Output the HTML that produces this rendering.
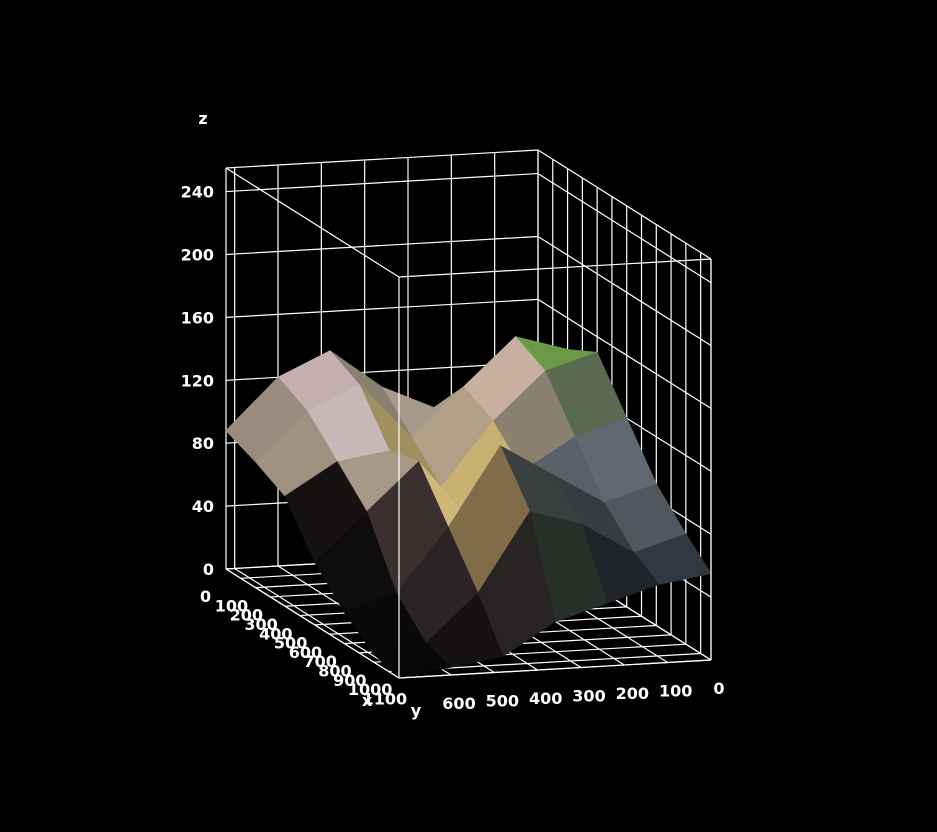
<!DOCTYPE html>
<html><head><meta charset="utf-8"><style>
html,body{margin:0;padding:0;background:#000;}
svg text{font-family:"DejaVu Sans","Liberation Sans",sans-serif;font-weight:bold;font-size:16px;fill:#fff;}
</style></head><body>
<svg id="chart" width="937" height="827" viewBox="0 0 937 827" xmlns="http://www.w3.org/2000/svg">
<rect width="937" height="827" fill="#000"/>
<g id="grid"></g>
<g id="surf"></g>
<g id="front"></g>
<g id="labels"></g>
</svg>
<script>
const zTicks = [0,40,80,120,160,200,240];
const yTicks = [0,100,200,300,400,500,600];
const xTicks = [0,100,200,300,400,500,600,700,800,900,1000,1100];
const xs = [0,200,400,600,800,1000,1170];
const ys = [0,120,240,360,480,600,720];
const zRow0 = [90,100,95,110,135,120,88];
const zRow1 = [140,150,120,90,125,110,80];
const zRow2 = [150,140,110,70,95,90,70];
const zRow3 = [120,110,90,60,100,70,40];
const zRow4 = [90,80,100,120,70,30,20];
const zRow5 = [70,60,80,90,40,10,5];
const zRow6 = [55,50,40,30,10,5,0];
const cellColors = [
 ['#7a8a60','#b8a090','#a89a8a','#8a8070','#c4b0b0','#9a8a80'],
 ['#6a9a48','#c8b0a0','#b0a088','#a09060','#c8b8b8','#a09080'],
 ['#5a6a50','#8a8070','#c8b070','#c8b070','#a89888','#161212'],
 ['#606870','#5a6068','#c0a868','#d0b878','#3a3030','#0e0c0c'],
 ['#50585e','#383c40','#3a4040','#806c48','#2a2424','#0a0808'],
 ['#303840','#202428','#243028','#282424','#161212','#080606']];
const zRows=[zRow0,zRow1,zRow2,zRow3,zRow4,zRow5,zRow6];
const XMAX=1170,YMAX=720,ZMAX=255;
const O=[538,551],VX=[173,109],VY=[-312,18],ZS=401/255;
function P(x,y,z){return [O[0]+VX[0]*x/XMAX+VY[0]*y/YMAX, O[1]+VX[1]*x/XMAX+VY[1]*y/YMAX-z*ZS];}
const NS='http://www.w3.org/2000/svg';
function line(g,a,b,name){const l=document.createElementNS(NS,'line');
l.setAttribute('x1',a[0]);l.setAttribute('y1',a[1]);l.setAttribute('x2',b[0]);l.setAttribute('y2',b[1]);
l.setAttribute('stroke','#fff');l.setAttribute('stroke-width','1.2');


g.appendChild(l);}
const grid=document.getElementById('grid');
const yl=yTicks.concat([700,YMAX]); const xl=xTicks.concat([XMAX]); const zl=zTicks.concat([ZMAX]);
yl.forEach(y=>{line(grid,P(0,y,0),P(0,y,ZMAX),'back-wall-gridline');line(grid,P(0,y,0),P(XMAX,y,0),'floor-gridline-y');});
xl.forEach(x=>{line(grid,P(x,0,0),P(x,0,ZMAX),'side-wall-gridline');line(grid,P(x,0,0),P(x,YMAX,0),'floor-gridline-x');});
zl.forEach(z=>{line(grid,P(0,0,z),P(0,YMAX,z),'back-wall-z-gridline');line(grid,P(0,0,z),P(XMAX,0,z),'side-wall-z-gridline');});
const surf=document.getElementById('surf');
const cells=[];
for(let i=0;i<xs.length-1;i++)for(let j=0;j<ys.length-1;j++)cells.push([i,j]);
cells.sort((a,b)=>(a[0]+a[1])-(b[0]+b[1]));
cells.forEach(([i,j])=>{
 const pts=[P(xs[i],ys[j],zRows[i][j]),P(xs[i+1],ys[j],zRows[i+1][j]),P(xs[i+1],ys[j+1],zRows[i+1][j+1]),P(xs[i],ys[j+1],zRows[i][j+1])];
 const p=document.createElementNS(NS,'polygon');
 p.setAttribute('points',pts.map(q=>q.join(',')).join(' '));
 p.setAttribute('fill',cellColors[i][j]);p.setAttribute('stroke',cellColors[i][j]);p.setAttribute('stroke-width','0.8');
 
 
 surf.appendChild(p);});
const fr=document.getElementById('front');
line(fr,P(XMAX,YMAX,0),P(XMAX,YMAX,ZMAX),'front-edge');
line(fr,P(0,YMAX,ZMAX),P(XMAX,YMAX,ZMAX),'top-left-edge');
line(fr,P(XMAX,0,ZMAX),P(XMAX,YMAX,ZMAX),'top-front-edge');
line(fr,P(XMAX,0,0),P(XMAX,0,ZMAX),'right-edge');
line(fr,P(XMAX,0,0),P(XMAX,YMAX,0),'bottom-front-edge');
line(fr,P(0,YMAX,0),P(XMAX,YMAX,0),'bottom-left-edge');
const lab=document.getElementById('labels');
function txt(s,x,y,anchor,name){const t=document.createElementNS(NS,'text');t.textContent=s;
t.setAttribute('x',x);t.setAttribute('y',y);t.setAttribute('text-anchor',anchor);


lab.appendChild(t);}
zTicks.forEach(z=>{const p=P(0,YMAX,z);txt(String(z),214,p[1]+6,'end','z-tick-label');});
yTicks.forEach(y=>{const p=P(XMAX,y,0);txt(String(y),p[0]+8,p[1]+34,'middle','y-tick-label');});
xTicks.forEach(x=>{const p=P(x,YMAX,0);txt(String(x),p[0]-26,p[1]+33,'start','x-tick-label');});
txt('z',203,124,'middle','z-axis-title');
txt('y',416,716,'middle','y-axis-title');
txt('x',367,706,'middle','x-axis-title');
</script>
</body></html>
